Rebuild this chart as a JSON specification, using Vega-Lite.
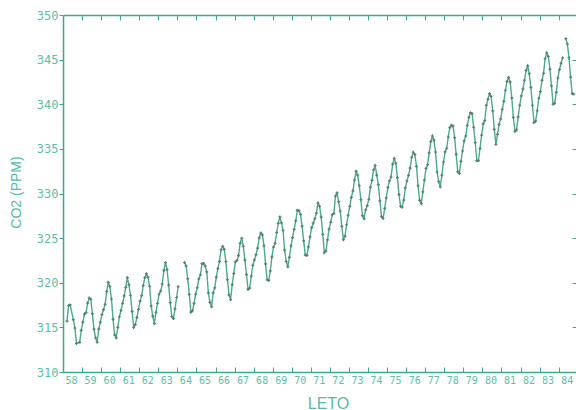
{
  "$schema": "https://vega.github.io/schema/vega-lite/v6.json",
  "autosize": "none",
  "width": 513,
  "height": 357,
  "padding": {"left": 63, "top": 15, "right": 0, "bottom": 38},
  "background": "white",
  "config": {"view": {"stroke": null}},
  "data": {"values": [
    {"t":1958.208,"co2":315.70},{"t":1958.292,"co2":317.45},{"t":1958.375,"co2":317.51},{"t":1958.542,"co2":315.86},{"t":1958.625,"co2":314.93},{"t":1958.708,"co2":313.20},{"t":1958.875,"co2":313.33},{"t":1958.958,"co2":314.67},
    {"t":1959.042,"co2":315.58},{"t":1959.125,"co2":316.49},{"t":1959.208,"co2":316.65},{"t":1959.292,"co2":317.72},{"t":1959.375,"co2":318.29},{"t":1959.458,"co2":318.15},{"t":1959.542,"co2":316.54},{"t":1959.625,"co2":314.80},{"t":1959.708,"co2":313.84},{"t":1959.792,"co2":313.33},{"t":1959.875,"co2":314.81},{"t":1959.958,"co2":315.58},
    {"t":1960.042,"co2":316.43},{"t":1960.125,"co2":316.98},{"t":1960.208,"co2":317.58},{"t":1960.292,"co2":319.03},{"t":1960.375,"co2":320.04},{"t":1960.458,"co2":319.58},{"t":1960.542,"co2":318.18},{"t":1960.625,"co2":315.90},{"t":1960.708,"co2":314.17},{"t":1960.792,"co2":313.83},{"t":1960.875,"co2":315.00},{"t":1960.958,"co2":316.19},
    {"t":1961.042,"co2":316.89},{"t":1961.125,"co2":317.70},{"t":1961.208,"co2":318.54},{"t":1961.292,"co2":319.48},{"t":1961.375,"co2":320.58},{"t":1961.458,"co2":319.77},{"t":1961.542,"co2":318.57},{"t":1961.625,"co2":316.79},{"t":1961.708,"co2":314.99},{"t":1961.792,"co2":315.31},{"t":1961.875,"co2":316.10},{"t":1961.958,"co2":317.01},
    {"t":1962.042,"co2":317.94},{"t":1962.125,"co2":318.55},{"t":1962.208,"co2":319.68},{"t":1962.292,"co2":320.57},{"t":1962.375,"co2":321.02},{"t":1962.458,"co2":320.62},{"t":1962.542,"co2":319.61},{"t":1962.625,"co2":317.40},{"t":1962.708,"co2":316.25},{"t":1962.792,"co2":315.42},{"t":1962.875,"co2":316.69},{"t":1962.958,"co2":317.70},
    {"t":1963.042,"co2":318.74},{"t":1963.125,"co2":319.07},{"t":1963.208,"co2":319.86},{"t":1963.292,"co2":321.38},{"t":1963.375,"co2":322.25},{"t":1963.458,"co2":321.48},{"t":1963.542,"co2":319.74},{"t":1963.625,"co2":317.77},{"t":1963.708,"co2":316.21},{"t":1963.792,"co2":315.99},{"t":1963.875,"co2":317.07},{"t":1963.958,"co2":318.35},
    {"t":1964.042,"co2":319.57},{"t":1964.125,"co2":null},{"t":1964.208,"co2":null},{"t":1964.292,"co2":null},{"t":1964.375,"co2":322.26},{"t":1964.458,"co2":321.89},{"t":1964.542,"co2":320.44},{"t":1964.625,"co2":318.69},{"t":1964.708,"co2":316.70},{"t":1964.792,"co2":316.87},{"t":1964.875,"co2":317.68},{"t":1964.958,"co2":318.71},
    {"t":1965.042,"co2":319.44},{"t":1965.125,"co2":320.44},{"t":1965.208,"co2":320.89},{"t":1965.292,"co2":322.14},{"t":1965.375,"co2":322.17},{"t":1965.458,"co2":321.87},{"t":1965.542,"co2":321.21},{"t":1965.625,"co2":318.87},{"t":1965.708,"co2":317.81},{"t":1965.792,"co2":317.30},{"t":1965.875,"co2":318.87},{"t":1965.958,"co2":319.42},
    {"t":1966.042,"co2":320.62},{"t":1966.125,"co2":321.59},{"t":1966.208,"co2":322.39},{"t":1966.292,"co2":323.70},{"t":1966.375,"co2":324.08},{"t":1966.458,"co2":323.75},{"t":1966.542,"co2":322.38},{"t":1966.625,"co2":320.36},{"t":1966.708,"co2":318.64},{"t":1966.792,"co2":318.10},{"t":1966.875,"co2":319.78},{"t":1966.958,"co2":321.03},
    {"t":1967.042,"co2":322.33},{"t":1967.125,"co2":322.50},{"t":1967.208,"co2":323.04},{"t":1967.292,"co2":324.42},{"t":1967.375,"co2":325.00},{"t":1967.458,"co2":324.09},{"t":1967.542,"co2":322.54},{"t":1967.625,"co2":320.92},{"t":1967.708,"co2":319.25},{"t":1967.792,"co2":319.39},{"t":1967.875,"co2":320.73},{"t":1967.958,"co2":321.96},
    {"t":1968.042,"co2":322.57},{"t":1968.125,"co2":323.15},{"t":1968.208,"co2":323.89},{"t":1968.292,"co2":325.02},{"t":1968.375,"co2":325.57},{"t":1968.458,"co2":325.36},{"t":1968.542,"co2":324.14},{"t":1968.625,"co2":322.11},{"t":1968.708,"co2":320.33},{"t":1968.792,"co2":320.25},{"t":1968.875,"co2":321.32},{"t":1968.958,"co2":322.89},
    {"t":1969.042,"co2":324.00},{"t":1969.125,"co2":324.42},{"t":1969.208,"co2":325.63},{"t":1969.292,"co2":326.66},{"t":1969.375,"co2":327.38},{"t":1969.458,"co2":326.71},{"t":1969.542,"co2":325.88},{"t":1969.625,"co2":323.66},{"t":1969.708,"co2":322.38},{"t":1969.792,"co2":321.78},{"t":1969.875,"co2":322.85},{"t":1969.958,"co2":324.12},
    {"t":1970.042,"co2":325.06},{"t":1970.125,"co2":325.98},{"t":1970.208,"co2":326.93},{"t":1970.292,"co2":328.13},{"t":1970.375,"co2":328.08},{"t":1970.458,"co2":327.67},{"t":1970.542,"co2":326.34},{"t":1970.625,"co2":324.69},{"t":1970.708,"co2":323.10},{"t":1970.792,"co2":323.06},{"t":1970.875,"co2":324.01},{"t":1970.958,"co2":325.13},
    {"t":1971.042,"co2":326.17},{"t":1971.125,"co2":326.68},{"t":1971.208,"co2":327.17},{"t":1971.292,"co2":327.79},{"t":1971.375,"co2":328.93},{"t":1971.458,"co2":328.57},{"t":1971.542,"co2":327.36},{"t":1971.625,"co2":325.43},{"t":1971.708,"co2":323.36},{"t":1971.792,"co2":323.56},{"t":1971.875,"co2":324.80},{"t":1971.958,"co2":326.01},
    {"t":1972.042,"co2":326.77},{"t":1972.125,"co2":327.63},{"t":1972.208,"co2":327.75},{"t":1972.292,"co2":329.72},{"t":1972.375,"co2":330.07},{"t":1972.458,"co2":329.09},{"t":1972.542,"co2":328.04},{"t":1972.625,"co2":326.32},{"t":1972.708,"co2":324.84},{"t":1972.792,"co2":325.20},{"t":1972.875,"co2":326.50},{"t":1972.958,"co2":327.55},
    {"t":1973.042,"co2":328.55},{"t":1973.125,"co2":329.56},{"t":1973.208,"co2":330.30},{"t":1973.292,"co2":331.50},{"t":1973.375,"co2":332.48},{"t":1973.458,"co2":332.07},{"t":1973.542,"co2":330.87},{"t":1973.625,"co2":329.31},{"t":1973.708,"co2":327.51},{"t":1973.792,"co2":327.18},{"t":1973.875,"co2":328.16},{"t":1973.958,"co2":328.64},
    {"t":1974.042,"co2":329.35},{"t":1974.125,"co2":330.71},{"t":1974.208,"co2":331.48},{"t":1974.292,"co2":332.65},{"t":1974.375,"co2":333.16},{"t":1974.458,"co2":332.06},{"t":1974.542,"co2":330.99},{"t":1974.625,"co2":329.17},{"t":1974.708,"co2":327.41},{"t":1974.792,"co2":327.20},{"t":1974.875,"co2":328.33},{"t":1974.958,"co2":329.50},
    {"t":1975.042,"co2":330.68},{"t":1975.125,"co2":331.41},{"t":1975.208,"co2":331.85},{"t":1975.292,"co2":333.29},{"t":1975.375,"co2":333.91},{"t":1975.458,"co2":333.40},{"t":1975.542,"co2":331.78},{"t":1975.625,"co2":329.88},{"t":1975.708,"co2":328.57},{"t":1975.792,"co2":328.46},{"t":1975.875,"co2":329.26},{"t":1975.958,"co2":330.62},
    {"t":1976.042,"co2":331.40},{"t":1976.125,"co2":332.04},{"t":1976.208,"co2":332.85},{"t":1976.292,"co2":334.06},{"t":1976.375,"co2":334.62},{"t":1976.458,"co2":334.38},{"t":1976.542,"co2":333.05},{"t":1976.625,"co2":330.87},{"t":1976.708,"co2":329.24},{"t":1976.792,"co2":328.87},{"t":1976.875,"co2":330.18},{"t":1976.958,"co2":331.50},
    {"t":1977.042,"co2":332.81},{"t":1977.125,"co2":333.23},{"t":1977.208,"co2":334.55},{"t":1977.292,"co2":335.82},{"t":1977.375,"co2":336.44},{"t":1977.458,"co2":335.99},{"t":1977.542,"co2":334.65},{"t":1977.625,"co2":332.41},{"t":1977.708,"co2":331.32},{"t":1977.792,"co2":330.73},{"t":1977.875,"co2":332.05},{"t":1977.958,"co2":333.53},
    {"t":1978.042,"co2":334.66},{"t":1978.125,"co2":335.07},{"t":1978.208,"co2":336.33},{"t":1978.292,"co2":337.39},{"t":1978.375,"co2":337.65},{"t":1978.458,"co2":337.57},{"t":1978.542,"co2":336.25},{"t":1978.625,"co2":334.39},{"t":1978.708,"co2":332.44},{"t":1978.792,"co2":332.25},{"t":1978.875,"co2":333.59},{"t":1978.958,"co2":334.76},
    {"t":1979.042,"co2":335.89},{"t":1979.125,"co2":336.44},{"t":1979.208,"co2":337.63},{"t":1979.292,"co2":338.54},{"t":1979.375,"co2":339.06},{"t":1979.458,"co2":338.95},{"t":1979.542,"co2":337.41},{"t":1979.625,"co2":335.71},{"t":1979.708,"co2":333.68},{"t":1979.792,"co2":333.69},{"t":1979.875,"co2":335.05},{"t":1979.958,"co2":336.53},
    {"t":1980.042,"co2":337.81},{"t":1980.125,"co2":338.16},{"t":1980.208,"co2":339.88},{"t":1980.292,"co2":340.57},{"t":1980.375,"co2":341.19},{"t":1980.458,"co2":340.87},{"t":1980.542,"co2":339.25},{"t":1980.625,"co2":337.19},{"t":1980.708,"co2":335.49},{"t":1980.792,"co2":336.63},{"t":1980.875,"co2":337.74},{"t":1980.958,"co2":338.36},
    {"t":1981.042,"co2":339.44},{"t":1981.125,"co2":340.33},{"t":1981.208,"co2":341.57},{"t":1981.292,"co2":342.56},{"t":1981.375,"co2":343.01},{"t":1981.458,"co2":342.47},{"t":1981.542,"co2":340.71},{"t":1981.625,"co2":338.52},{"t":1981.708,"co2":336.96},{"t":1981.792,"co2":337.13},{"t":1981.875,"co2":338.58},{"t":1981.958,"co2":339.89},
    {"t":1982.042,"co2":340.93},{"t":1982.125,"co2":341.69},{"t":1982.208,"co2":342.69},{"t":1982.292,"co2":343.79},{"t":1982.375,"co2":344.30},{"t":1982.458,"co2":343.43},{"t":1982.542,"co2":341.88},{"t":1982.625,"co2":339.89},{"t":1982.708,"co2":337.95},{"t":1982.792,"co2":338.10},{"t":1982.875,"co2":339.27},{"t":1982.958,"co2":340.67},
    {"t":1983.042,"co2":341.42},{"t":1983.125,"co2":342.68},{"t":1983.208,"co2":343.46},{"t":1983.292,"co2":345.10},{"t":1983.375,"co2":345.76},{"t":1983.458,"co2":345.36},{"t":1983.542,"co2":343.91},{"t":1983.625,"co2":342.05},{"t":1983.708,"co2":340.00},{"t":1983.792,"co2":340.12},{"t":1983.875,"co2":341.33},{"t":1983.958,"co2":342.94},
    {"t":1984.042,"co2":343.87},{"t":1984.125,"co2":344.60},{"t":1984.208,"co2":345.20},{"t":1984.292,"co2":null},{"t":1984.375,"co2":347.35},{"t":1984.458,"co2":346.76},{"t":1984.542,"co2":345.21},{"t":1984.625,"co2":343.04},{"t":1984.708,"co2":341.18},{"t":1984.792,"co2":341.14}
  ]},
  "layer": [
    {
      "mark": {"type": "line", "color": "#4aaa8c", "strokeWidth": 1.4, "clip": true, "invalid": "break-paths-filter-domains"},
      "encoding": {
        "x": {"field": "t", "type": "quantitative",
          "scale": {"domain": [1958, 1984.91], "nice": false, "zero": false},
          "axis": {"orient": "bottom", "title": "LETO", "values": [1958,1959,1960,1961,1962,1963,1964,1965,1966,1967,1968,1969,1970,1971,1972,1973,1974,1975,1976,1977,1978,1979,1980,1981,1982,1983,1984],
            "format": "d", "labelExpr": "slice(datum.label, 2)", "labelOffset": 8, "labelOverlap": false, "labelFlush": false, "labelBound": false,
            "grid": false, "domainColor": "#3fa98d", "domainWidth": 1.5, "tickColor": "#3fa98d", "tickSize": -5, "tickWidth": 1,
            "labelFont": "DejaVu Sans Mono", "labelFontSize": 10, "labelColor": "#5cc0a7", "labelPadding": 8,
            "titleFont": "Liberation Sans", "titleFontSize": 16, "titleFontWeight": "normal", "titleColor": "#55bca2",
            "titleX": 265, "titleY": 36, "titleAlign": "center", "titleBaseline": "alphabetic"}},
        "y": {"field": "co2", "type": "quantitative",
          "scale": {"domain": [310, 350], "nice": false, "zero": false},
          "axis": {"orient": "left", "title": "CO2 (PPM)", "values": [310,315,320,325,330,335,340,345,350],
            "grid": false, "domainColor": "#3fa98d", "domainWidth": 1.5, "tickColor": "#3fa98d", "tickSize": 4, "tickWidth": 1,
            "labelFont": "DejaVu Sans Mono", "labelFontSize": 12, "labelColor": "#5cc0a7", "labelPadding": 1, "labelOverlap": false, "labelBound": false, "labelFlush": false,
            "titleFont": "Liberation Sans", "titleFontSize": 14, "titleFontWeight": "normal", "titleColor": "#55bca2",
            "titleX": -47, "titleY": 177, "titleAngle": -90, "titleAlign": "center", "titleBaseline": "middle"}}
      }
    },
    {
      "mark": {"type": "point", "shape": "cross", "filled": true, "size": 9, "color": "#577a6f", "opacity": 0.9, "clip": true},
      "encoding": {
        "x": {"field": "t", "type": "quantitative",
          "axis": {"orient": "top", "title": null, "labels": false, "values": [1959,1960,1961,1962,1963,1964,1965,1966,1967,1968,1969,1970,1971,1972,1973,1974,1975,1976,1977,1978,1979,1980,1981,1982,1983,1984],
            "grid": false, "domainColor": "#3fa98d", "domainWidth": 1.5, "tickColor": "#3fa98d", "tickSize": -5, "tickWidth": 1}},
        "y": {"field": "co2", "type": "quantitative",
          "axis": {"orient": "right", "title": null, "labels": false, "domain": false, "values": [315,320,325,330,335,340,345],
            "grid": false, "tickColor": "#3fa98d", "tickSize": -4, "tickWidth": 1}}
      }
    }
  ],
  "resolve": {"axis": {"x": "independent", "y": "independent"}}
}
